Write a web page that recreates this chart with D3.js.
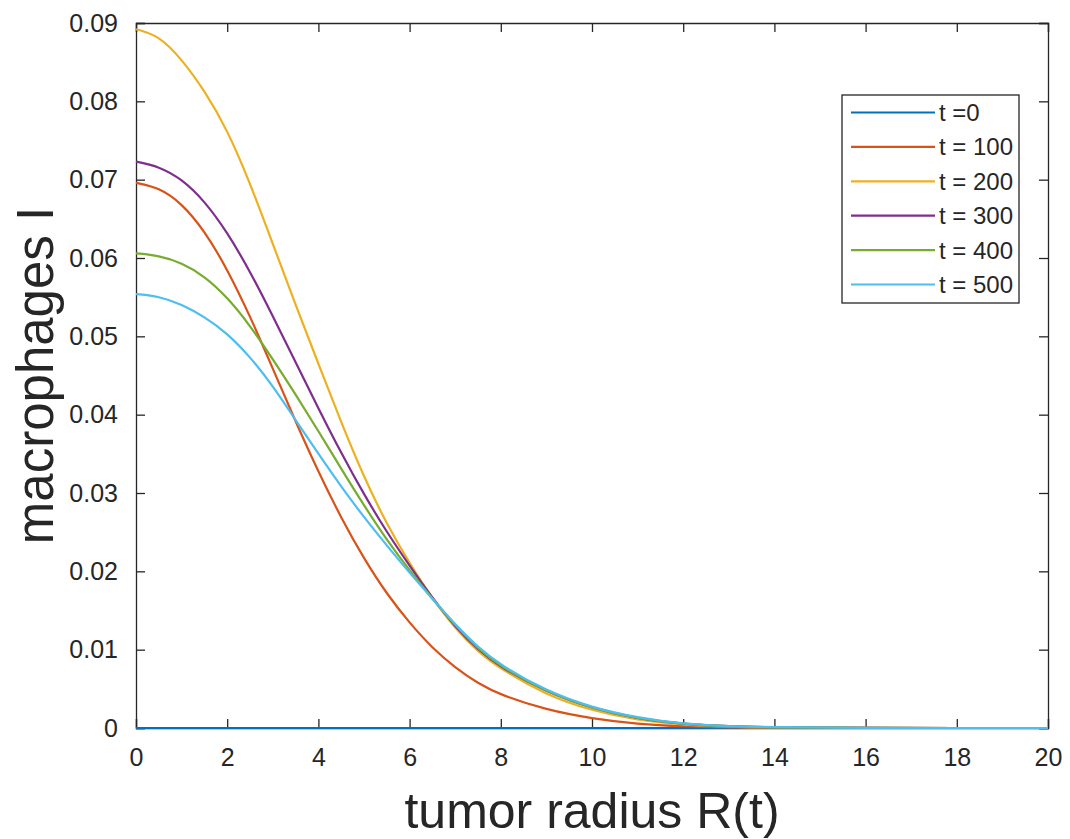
<!DOCTYPE html>
<html>
<head>
<meta charset="utf-8">
<script src="https://cdn.jsdelivr.net/npm/d3@7"></script>
<style>
  html, body { margin: 0; padding: 0; background: #ffffff; }
  svg { display: block; }
  text { font-family: "Liberation Sans", Arial, Helvetica, sans-serif; fill: #262626; }
</style>
</head>
<body>
<svg id="chart" width="1070" height="839"></svg>
<script>
// Radial positions where the macrophage density I(r) is sampled
const radius = [0, 0.5, 1, 1.5, 2, 2.5, 3, 3.5, 4, 4.5, 5, 5.5, 6, 6.5, 7, 7.5, 8, 9, 10, 11, 12, 13, 14, 16, 18, 20];

// Series labels and macrophage profiles at each time
const seriesNames = ["t =0", "t = 100", "t = 200", "t = 300", "t = 400", "t = 500"];
const macT0   = [0, 0, 0, 0, 0, 0, 0, 0, 0, 0, 0, 0, 0, 0, 0, 0, 0, 0, 0, 0, 0, 0, 0, 0, 0, 0];
const macT100 = [0.0696, 0.0690, 0.0670, 0.0635, 0.0586, 0.0526, 0.0459, 0.0391, 0.0327, 0.0268, 0.0216, 0.0171, 0.0134, 0.0102, 0.0077, 0.0057, 0.0042, 0.0023, 0.0012, 0.0005, 0.0002, 0.00007, 0.00002, 0, 0, 0];
const macT200 = [0.0892, 0.0884, 0.0854, 0.0814, 0.0764, 0.0696, 0.0618, 0.0540, 0.0465, 0.0390, 0.0320, 0.0260, 0.0210, 0.0165, 0.0127, 0.0097, 0.0075, 0.0042, 0.0022, 0.0010, 0.0004, 0.00015, 0.00005, 0, 0, 0];
const macT300 = [0.0723, 0.0717, 0.0701, 0.0673, 0.0633, 0.0583, 0.0526, 0.0467, 0.0408, 0.0351, 0.0298, 0.0250, 0.0207, 0.0166, 0.0129, 0.0100, 0.0077, 0.0046, 0.0025, 0.0012, 0.0005, 0.0002, 0.00008, 0.00001, 0, 0];
const macT400 = [0.0606, 0.0603, 0.0594, 0.0577, 0.0550, 0.0514, 0.0471, 0.0426, 0.0379, 0.0331, 0.0284, 0.0240, 0.0201, 0.0165, 0.0131, 0.0101, 0.0078, 0.0046, 0.0025, 0.0012, 0.0005, 0.0002, 0.00008, 0.00001, 0, 0];
const macT500 = [0.0554, 0.0551, 0.0541, 0.0525, 0.0504, 0.0474, 0.0437, 0.0393, 0.0350, 0.0308, 0.0269, 0.0233, 0.0198, 0.0165, 0.0132, 0.0103, 0.0080, 0.0047, 0.0026, 0.0013, 0.0005, 0.0002, 0.0001, 0.00001, 0, 0];
const seriesColors = ["#0072BD", "#D95319", "#EDB120", "#7E2F8E", "#77AC30", "#4DBEEE"];

// Axis ticks
const xTicks = [0, 2, 4, 6, 8, 10, 12, 14, 16, 18, 20];
const yTicks = [0, 0.01, 0.02, 0.03, 0.04, 0.05, 0.06, 0.07, 0.08, 0.09];
const xTitle = "tumor radius R(t)";
const yTitle = "macrophages I";

const seriesValues = [macT0, macT100, macT200, macT300, macT400, macT500];
const series = seriesNames.map((name, i) => ({
  name,
  color: seriesColors[i],
  points: radius.map((r, j) => ({ r, v: seriesValues[i][j] }))
}));

// Plot box
const boxLeft = 136, boxRight = 1048, boxTop = 23, boxBottom = 728;
const tickLen = 9;
const axisColor = "#262626";

const x = d3.scaleLinear().domain([0, 20]).range([boxLeft, boxRight]);
const y = d3.scaleLinear().domain([0, 0.09]).range([boxBottom, boxTop]);

const svg = d3.select("#chart");

// Axes: bottom/left with labels, top/right as mirrored ticks (boxed frame)
const fmtY = v => v === 0 ? "0" : d3.format(".2f")(v);

const xAxis = svg.append("g")
  .attr("transform", `translate(0,${boxBottom})`)
  .call(d3.axisBottom(x).tickValues(xTicks).tickSize(-tickLen).tickPadding(20).tickFormat(d3.format("d")));
const yAxis = svg.append("g")
  .attr("transform", `translate(${boxLeft},0)`)
  .call(d3.axisLeft(y).tickValues(yTicks).tickSize(-tickLen).tickPadding(18).tickFormat(fmtY));
const xAxisTop = svg.append("g")
  .attr("transform", `translate(0,${boxTop})`)
  .call(d3.axisTop(x).tickValues(xTicks).tickSize(-tickLen).tickFormat(""));
const yAxisRight = svg.append("g")
  .attr("transform", `translate(${boxRight},0)`)
  .call(d3.axisRight(y).tickValues(yTicks).tickSize(-tickLen).tickFormat(""));

[xAxis, yAxis, xAxisTop, yAxisRight].forEach(g => {
  g.select(".domain").attr("stroke", axisColor).attr("stroke-width", 1.3);
  g.selectAll(".tick line").attr("stroke", axisColor).attr("stroke-width", 1.3);
  g.selectAll(".tick text")
    .attr("fill", axisColor)
    .style("font-family", "'Liberation Sans', Arial, sans-serif")
    .style("font-size", "25px");
});

// Curves, drawn over the frame so the zero profile stays visible on the x axis
const line = d3.line()
  .x(d => x(d.r))
  .y(d => y(d.v))
  .curve(d3.curveBasis);

const plot = svg.append("g");
plot.selectAll("path.series")
  .data(series)
  .join("path")
  .attr("class", "series")
  .attr("fill", "none")
  .attr("stroke", d => d.color)
  .attr("stroke-width", 2.2)
  .attr("stroke-linejoin", "round")
  .attr("d", d => line(d.points));

// Axis titles
svg.append("text")
  .attr("x", (boxLeft + boxRight) / 2)
  .attr("y", 828)
  .attr("text-anchor", "middle")
  .style("font-size", "50px")
  .text(xTitle);

svg.append("text")
  .attr("transform", `translate(53,${(boxTop + boxBottom) / 2}) rotate(-90)`)
  .attr("text-anchor", "middle")
  .style("font-size", "51px")
  .text(yTitle);

// Legend
const legX = 842, legY = 95, legW = 177, legH = 208;
const legRow = 34.4, legFirst = 17.5;
const legend = svg.append("g").attr("transform", `translate(${legX},${legY})`);
legend.append("rect")
  .attr("width", legW).attr("height", legH)
  .attr("fill", "#ffffff")
  .attr("stroke", axisColor).attr("stroke-width", 1.3);
const rows = legend.selectAll("g.row")
  .data(series)
  .join("g")
  .attr("class", "row")
  .attr("transform", (d, i) => `translate(0,${legFirst + i * legRow})`);
rows.append("line")
  .attr("x1", 9).attr("x2", 93)
  .attr("stroke", d => d.color)
  .attr("stroke-width", 2.2);
rows.append("text")
  .attr("x", 97)
  .attr("dy", "0.35em")
  .style("font-size", "24px")
  .text(d => d.name);
</script>
</body>
</html>
